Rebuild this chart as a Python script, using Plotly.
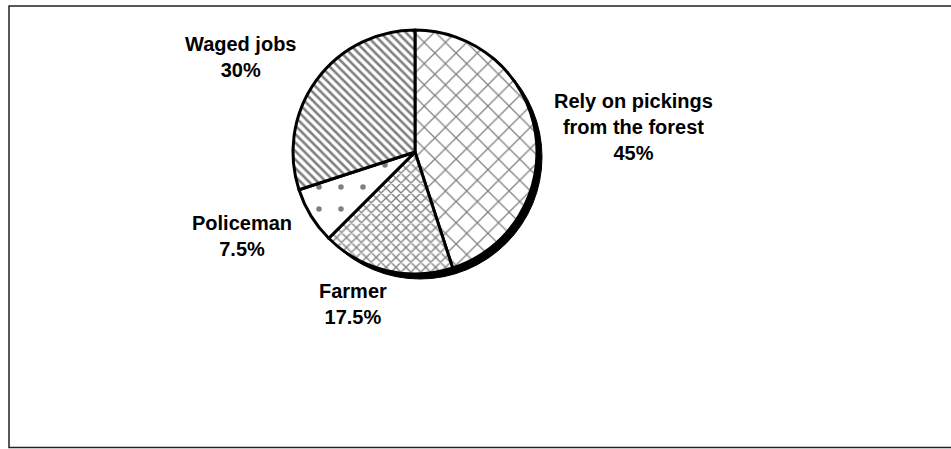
import plotly.graph_objects as go

W, H = 951, 449

categories = ["Rely on pickings<br>from the forest", "Farmer", "Policeman", "Waged jobs"]
values = [45, 17.5, 7.5, 30]
pct_labels = ["45%", "17.5%", "7.5%", "30%"]
patterns = ["x", "x", ".", "\\"]
pattern_sizes = [15, 7, 22, 6]
pattern_solidity = [0.16, 0.35, 0.05, 0.42]

# label anchor points (pixels)
label_pos = [(633, 127), (353, 304), (242, 236), (241, 57)]

# pie geometry (pixels)
cx, cy, r = 415, 152, 122


def px(x):
    return x / W


def py(y):
    return 1 - y / H


fig = go.Figure()
fig.add_trace(go.Pie(
    labels=categories,
    values=values,
    sort=False,
    direction="clockwise",
    rotation=0,
    textinfo="none",
    hoverinfo="none",
    showlegend=False,
    domain=dict(x=[px(cx - r), px(cx + r)], y=[py(cy + r), py(cy - r)]),
    marker=dict(
        colors=["white"] * 4,
        line=dict(color="black", width=3),
        pattern=dict(
            shape=patterns,
            size=pattern_sizes,
            solidity=pattern_solidity,
            fgcolor="black",
            bgcolor="white",
            fillmode="overlay",
        ),
    ),
))

bx0, bx1, by0, by1 = px(9), px(960), py(447.5), py(6)
shapes = [
    # shadow of the pie
    dict(type="circle", xref="paper", yref="paper", layer="below",
         x0=px(cx - r + 5), x1=px(cx + r + 5), y0=py(cy + r + 5), y1=py(cy - r + 5),
         fillcolor="black", line=dict(color="black", width=1)),
    # chart border (open on the right, as in the original crop)
    dict(type="path", xref="paper", yref="paper", layer="above",
         path=f"M {bx1},{by1} L {bx0},{by1} L {bx0},{by0} L {bx1},{by0}",
         line=dict(color="#222", width=1.5)),
]

annotations = []
for cat, pct, (x, y) in zip(categories, pct_labels, label_pos):
    annotations.append(dict(
        x=px(x), y=py(y), xref="paper", yref="paper",
        text=f"<b>{cat}<br>{pct}</b>", showarrow=False,
        xanchor="center", yanchor="middle", align="center",
        font=dict(family="Liberation Sans, Arial, sans-serif", size=20, color="black"),
    ))

fig.update_layout(
    width=W, height=H,
    margin=dict(l=0, r=0, t=0, b=0),
    paper_bgcolor="white",
    plot_bgcolor="white",
    shapes=shapes,
    annotations=annotations,
)

fig.write_html("out.html", config={"displayModeBar": False})
